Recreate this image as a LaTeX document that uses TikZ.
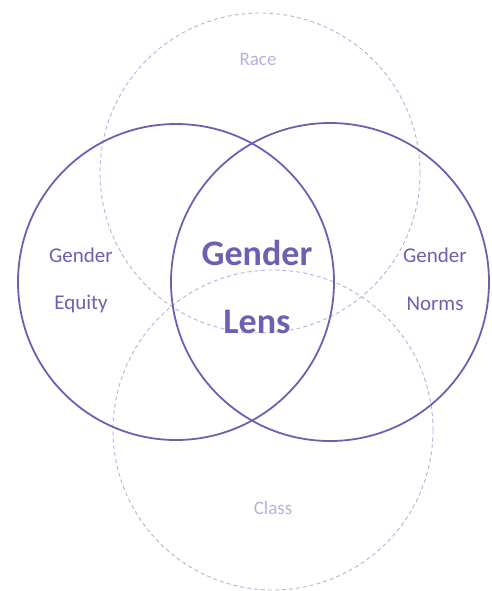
\documentclass[tikz,border=0pt]{standalone}
\usepackage{fontspec}
\setmainfont{Carlito}
\usepackage{tikz}
\usepackage{xcolor}
\usetikzlibrary{positioning}
\definecolor{lensviolet}{RGB}{108,96,178}
\definecolor{paleviolet}{RGB}{184,176,224}
\tikzset{%
	lenscircle/.style  = {draw=lensviolet, line width=1.8pt},
	extracircle/.style = {draw=paleviolet, line width=0.9pt, dash pattern=on 4pt off 3pt},
	sidelabel/.style   = {text=lensviolet, font=\fontsize{21}{24}\selectfont},
	extralabel/.style  = {text=paleviolet, font=\fontsize{19}{22}\selectfont},
	centrelabel/.style = {text=lensviolet, font=\fontsize{36}{42}\selectfont\bfseries},
}

\begin{document}
\begin{tikzpicture}[x=1pt,y=-1pt]
	\useasboundingbox (0,0) rectangle (491,591);
	
	\draw[extracircle] (260,173) circle (160pt);  % race
	\draw[extracircle] (273,430) circle (160pt);  % class
	\draw[lenscircle] (176,282) circle (158pt);   % equity
	\draw[lenscircle] (330,282) circle (159pt);   % norms
	
	\node[extralabel] (race) at (258,59) {Race};
	\node[extralabel] (class) at (273,508) {Class};
	
	\node[sidelabel] (equitytop) at (81,255) {Gender};
	\node[sidelabel] (equity) at (81,304) {Equity};
	\node[sidelabel] (normstop) at (435,255) {Gender};
	\node[sidelabel] (norms) at (435,304) {Norms};
	
	\node[centrelabel] (lenstop) at (257,253) {Gender};
	\node[centrelabel] (lens) at (257,322) {Lens};
\end{tikzpicture}
\end{document}
